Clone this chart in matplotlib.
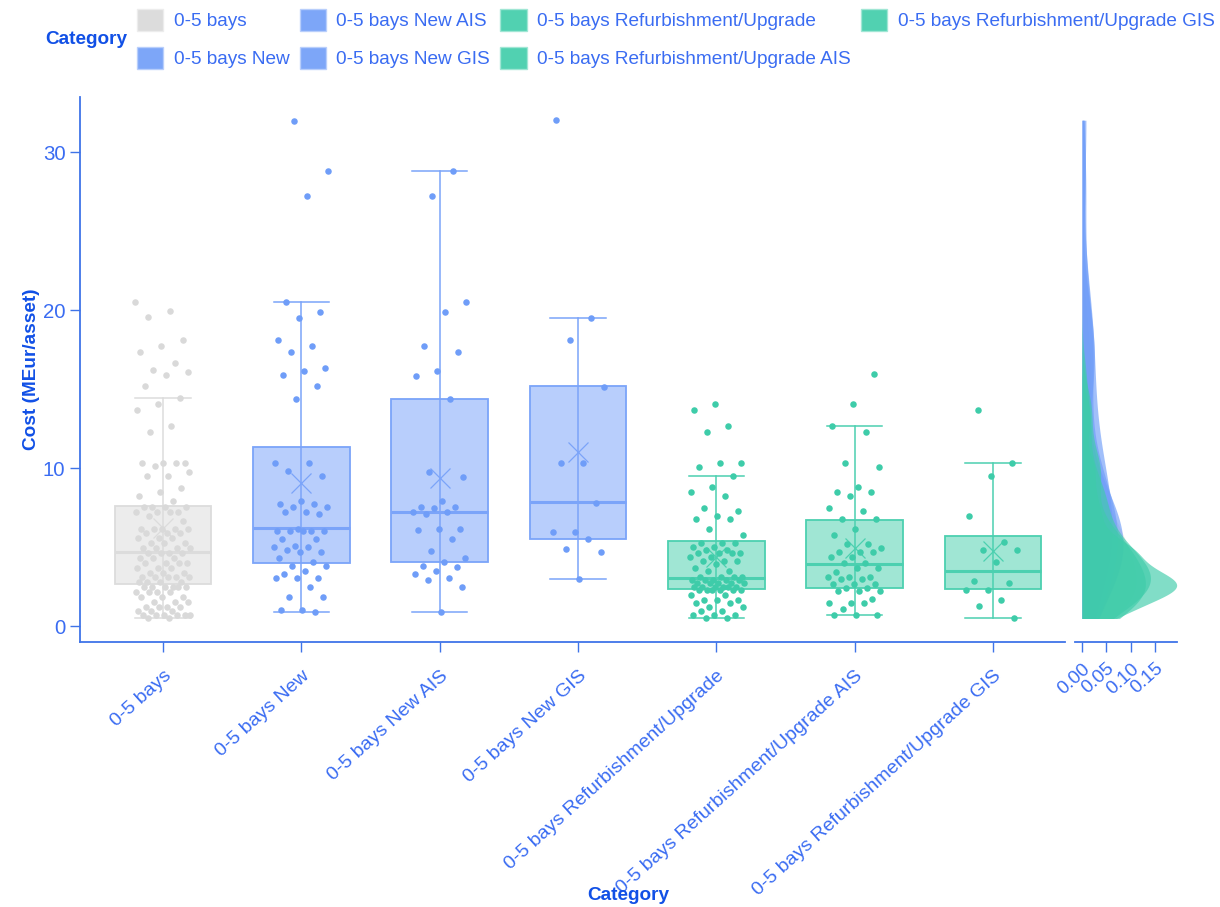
import numpy as np
import matplotlib
matplotlib.use("Agg")
import matplotlib.pyplot as plt
from matplotlib.patches import Patch

plt.rcParams["font.family"] = ["Liberation Sans", "DejaVu Sans"]

# ---- data ------------------------------------------------------------------
categories = [
    "0-5 bays",
    "0-5 bays New",
    "0-5 bays New AIS",
    "0-5 bays New GIS",
    "0-5 bays Refurbishment/Upgrade",
    "0-5 bays Refurbishment/Upgrade AIS",
    "0-5 bays Refurbishment/Upgrade GIS",
]

# box statistics (MEur/asset)
q1 = [2.64, 3.98, 4.04, 5.54, 2.33, 2.39, 2.33]
median = [4.71, 6.20, 7.21, 7.84, 3.07, 3.95, 3.47]
q3 = [7.63, 11.37, 14.40, 15.18, 5.37, 6.70, 5.69]
whisker_low = [0.55, 0.93, 0.93, 2.96, 0.55, 0.70, 0.55]
whisker_high = [14.42, 20.55, 28.80, 19.53, 9.49, 12.68, 10.36]
mean = [6.20, 9.05, 9.37, 11.05, 4.40, 4.93, 4.76]

# individual assets
points_bays = [
    20.53, 19.94, 19.56, 18.14, 17.76, 17.36, 16.66, 16.20, 16.07, 15.88,
    15.18, 14.42, 14.08, 13.70, 12.68, 12.28,
    10.36, 10.36, 10.36, 10.36, 10.15, 9.79, 9.51, 9.51, 8.77, 8.48, 8.25, 7.95,
    7.57, 7.57, 7.57, 7.57, 7.25, 7.25, 7.25, 7.25, 6.98, 6.68,
    6.13, 6.13, 6.13, 6.13, 6.13, 5.88, 5.88, 5.88, 5.56, 5.56, 5.56,
    5.25, 5.25, 5.25, 4.93, 4.93, 4.93, 4.93, 4.61, 4.61, 4.61, 4.61,
    4.29, 4.29, 4.29, 3.98, 3.98, 3.98, 3.98, 3.66, 3.66, 3.66,
    3.34, 3.34, 3.34, 3.13, 3.13, 3.13, 3.13, 3.13, 2.81, 2.81, 2.81, 2.81,
    2.49, 2.49, 2.49, 2.49, 2.49, 2.49, 2.18, 2.18, 2.18, 2.18,
    1.86, 1.86, 1.86, 1.54, 1.54, 1.54, 1.22, 1.22, 1.22, 1.22,
    0.97, 0.97, 0.97, 0.70, 0.70, 0.70, 0.70, 0.70, 0.70, 0.49, 0.49,
]
points_new = [
    31.98, 28.79, 27.23, 20.55, 19.92, 19.51, 18.14, 17.74, 17.36, 16.32,
    16.17, 15.88, 15.18, 14.40, 10.36, 10.36, 9.83, 9.49, 7.93, 7.74, 7.74,
    7.57, 7.57, 7.25, 7.25, 7.08, 6.15, 6.03, 6.03, 6.03, 6.03, 6.03,
    5.52, 5.52, 5.07, 4.99, 4.99, 4.82, 4.71, 4.71, 4.29, 4.08, 3.81, 3.81,
    3.51, 3.28, 3.02, 3.02, 3.02, 2.49, 1.86, 1.86, 1.01, 1.01, 0.93,
]
points_new_ais = [
    28.80, 27.23, 20.53, 19.92, 17.74, 17.36, 16.17, 15.86, 14.40, 9.79,
    9.47, 7.93, 7.55, 7.55, 7.46, 7.25, 7.25, 7.08, 6.13, 6.13, 6.07, 5.54,
    4.76, 4.29, 4.04, 3.83, 3.74, 3.51, 3.28, 3.04, 2.94, 2.49, 0.93,
]
points_new_gis = [
    32.03, 19.53, 18.12, 15.16, 10.36, 10.36, 7.80, 5.98, 5.98, 5.54,
    4.91, 4.67, 2.96,
]
points_refurb = [
    14.08, 13.70, 12.68, 12.30, 10.36, 10.36, 10.10, 9.49, 8.79, 8.48, 8.25,
    7.48, 7.31, 7.00, 6.76, 6.76, 6.13, 5.75, 5.25, 5.25, 5.25, 5.03, 5.03,
    4.82, 4.82, 4.65, 4.65, 4.65, 4.65, 4.40, 4.40, 4.12, 4.12, 4.12, 3.91,
    3.66, 3.49, 3.49, 3.13, 3.13, 3.13, 3.13, 2.92, 2.92, 2.92, 2.92, 2.92,
    2.71, 2.71, 2.71, 2.71, 2.71, 2.49, 2.49, 2.49, 2.49, 2.49, 2.49,
    2.28, 2.28, 2.28, 2.28, 2.28, 2.28, 1.97, 1.97, 1.65, 1.65, 1.65,
    1.44, 1.44, 1.22, 1.22, 0.95, 0.95, 0.70, 0.70, 0.70, 0.55, 0.55,
]
points_refurb_ais = [
    15.98, 14.08, 12.68, 12.30, 10.36, 10.10, 8.79, 8.48, 8.48, 8.25, 7.48,
    7.31, 6.76, 6.76, 6.15, 5.77, 5.20, 5.20, 4.97, 4.67, 4.67, 4.67, 4.40,
    4.40, 3.98, 3.98, 3.66, 3.66, 3.45, 3.13, 3.13, 3.13, 2.96, 2.96,
    2.66, 2.66, 2.66, 2.39, 2.39, 2.22, 2.22, 2.22, 1.71, 1.48, 1.48, 1.48,
    1.08, 0.70, 0.70, 0.70,
]
points_refurb_gis = [
    13.70, 10.36, 9.49, 7.00, 5.31, 4.82, 4.82, 4.04, 2.87, 2.71, 2.28,
    2.28, 1.65, 1.25, 0.55,
]
points = [points_bays, points_new, points_new_ais, points_new_gis,
          points_refurb, points_refurb_ais, points_refurb_gis]

density_ticks = [0.00, 0.05, 0.10, 0.15]

# ---- styling ----------------------------------------------------------------
GREY = ("#d9d9d9", "#ececec", "#dcdcdc")
BLUE = ("#6f9df8", "#b8cefc", "#7ba4f9")
GREEN = ("#3ecca9", "#a0e6d4", "#4cd0b0")
palette = [GREY, BLUE, BLUE, BLUE, GREEN, GREEN, GREEN]
TICK_COLOR = "#3a6cf2"
LABEL_COLOR = "#1150e6"
SPINE_COLOR = "#3f74e8"
FS = 13.7
TICK_FS = 14.0
ROT = 42

fig = plt.figure(figsize=(12.2, 9.07), dpi=100)
W, H = 1220, 907
ax = fig.add_axes([80 / W, 1 - 642 / H, (1065 - 80) / W, (642 - 97) / H])
ax_d = fig.add_axes([1075 / W, 1 - 642 / H, (1177 - 1075) / W, (642 - 97) / H],
                    sharey=ax)

positions = np.arange(len(categories))
box_w = 0.70
jitter = 0.2

for i, pos in enumerate(positions):
    pt_color, fill, edge = palette[i]
    stats = [{
        "q1": q1[i], "med": median[i], "q3": q3[i],
        "whislo": whisker_low[i], "whishi": whisker_high[i],
        "mean": mean[i], "fliers": [],
    }]
    ax.bxp(
        stats, positions=[pos], widths=box_w, capwidths=0.40,
        patch_artist=True, showmeans=True, manage_ticks=False,
        boxprops=dict(facecolor=fill, edgecolor=edge, linewidth=1.3),
        medianprops=dict(color=edge, linewidth=2.2),
        whiskerprops=dict(color=edge, linewidth=1.1),
        capprops=dict(color=edge, linewidth=1.1),
        meanprops=dict(marker="x", markersize=15, markeredgecolor=edge,
                       markeredgewidth=0.9),
        zorder=1,
    )
    # whisker line runs through the box
    ax.vlines(pos, q1[i], q3[i], color=edge, linewidth=1.1, zorder=2)

    vals = np.asarray(points[i])
    n = len(vals)
    offs = ((np.arange(n) * 0.6180339887 + 0.37 * i) % 1.0 - 0.5) * 2 * jitter
    ax.scatter(pos + offs, vals, s=22, color=pt_color, linewidths=0, zorder=3)

ax.set_xlim(-0.6, 6.52)
ax.set_ylim(-1.0, 33.5)
ax.set_yticks([0, 10, 20, 30])
ax.set_xticks(positions)
ax.set_xticklabels(categories, rotation=ROT, ha="right", rotation_mode="anchor")

for side in ("top", "right"):
    ax.spines[side].set_visible(False)
for side in ("left", "bottom"):
    ax.spines[side].set_color(SPINE_COLOR)
    ax.spines[side].set_linewidth(1.3)
ax.tick_params(axis="both", colors=SPINE_COLOR, labelcolor=TICK_COLOR,
               length=7, width=1, labelsize=TICK_FS)
ax.tick_params(axis="y", labelsize=14.7)
ax.tick_params(axis="x", pad=11)
ax.set_ylabel("Cost (MEur/asset)", fontsize=FS, fontweight="bold",
              color=LABEL_COLOR, labelpad=2)

# ---- density panel ----------------------------------------------------------
all_vals = np.concatenate([np.asarray(p) for p in points])
grid = np.linspace(all_vals.min(), all_vals.max(), 400)


def gaussian_kde(values, at):
    # bandwidth as R's bw.nrd0
    values = np.asarray(values)
    iqr = np.subtract(*np.percentile(values, [75, 25]))
    spread = min(values.std(ddof=1), iqr / 1.34)
    bw = 0.9 * spread * len(values) ** (-1 / 5)
    z = (at[:, None] - values[None, :]) / bw
    return np.exp(-0.5 * z ** 2).sum(axis=1) / (len(values) * bw * np.sqrt(2 * np.pi))


for i in range(len(points)):
    dens = gaussian_kde(points[i], grid)
    ax_d.fill_betweenx(grid, 0, dens, color=palette[i][0], alpha=0.65,
                       linewidth=0, zorder=1 + i)

ax_d.set_xlim(-0.0143, 0.194)
ax_d.set_xticks(density_ticks)
ax_d.set_xticklabels([f"{t:.2f}" for t in density_ticks], rotation=ROT,
                     ha="right", rotation_mode="anchor")
for side in ("top", "right", "left"):
    ax_d.spines[side].set_visible(False)
ax_d.spines["bottom"].set_color(SPINE_COLOR)
ax_d.spines["bottom"].set_linewidth(1.3)
ax_d.tick_params(axis="x", colors=SPINE_COLOR, labelcolor=TICK_COLOR,
                 length=7, width=1, labelsize=FS, pad=6)
ax_d.tick_params(axis="y", left=False, labelleft=False)

# ---- axis title and legend --------------------------------------------------
fig.text(628 / W, 1 - 895 / H, "Category", ha="center", va="center",
         fontsize=FS, fontweight="bold", color=LABEL_COLOR)

handles = [Patch(facecolor=palette[i][0], edgecolor=palette[i][1],
                 alpha=0.9, linewidth=1) for i in range(len(categories))]
leg = fig.legend(
    handles, categories, ncol=4, loc="upper left",
    bbox_to_anchor=(137 / W, 1 - 9 / H), frameon=False,
    fontsize=FS, handlelength=1.37, handleheight=1.37, handletextpad=0.55,
    columnspacing=0.55, labelspacing=0.86, borderpad=0, borderaxespad=0,
)
for txt in leg.get_texts():
    txt.set_color(TICK_COLOR)
fig.text(127 / W, 1 - 39 / H, "Category", ha="right", va="center",
         fontsize=FS, fontweight="bold", color=LABEL_COLOR)

fig.savefig("out.png", dpi=100)
